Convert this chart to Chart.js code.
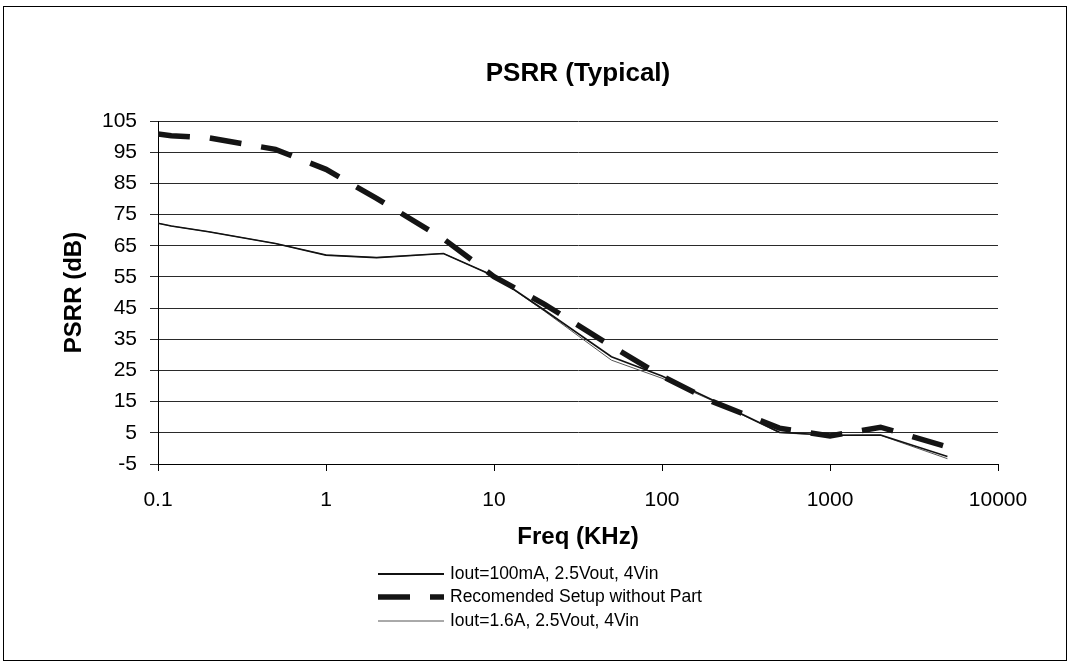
<!DOCTYPE html>
<html>
<head>
<meta charset="utf-8">
<title>PSRR (Typical)</title>
<script src="https://cdn.jsdelivr.net/npm/chart.js@4.4.1/dist/chart.umd.min.js"></script>
<style>
  html, body { margin: 0; padding: 0; background: #fff; }
  #wrap { width: 1070px; height: 667px; }
</style>
</head>
<body>
<div id="wrap"><canvas id="psrrChart" width="1070" height="667"></canvas></div>
<script>
const CHART_TITLE = "PSRR (Typical)";
const X_TITLE = "Freq (KHz)";
const Y_TITLE = "PSRR (dB)";

// frequency points (KHz)
const freqKHz = [0.1, 0.12, 0.2, 0.5, 1, 2, 5, 10, 20, 50, 100, 200, 500, 1000, 2000, 5000];

const seriesNames = [
  "Iout=100mA, 2.5Vout, 4Vin",
  "Recomended Setup without Part",
  "Iout=1.6A, 2.5Vout, 4Vin"
];

// PSRR values (dB)
const psrr100mA = [72.2, 71.3, 69.5, 65.7, 62.0, 61.2, 62.5, 55.3, 44.3, 29.4, 23.2, 15.5, 5.2, 4.2, 4.3, -2.6];
const psrrNoPart = [100.8, 100.3, 99.6, 95.9, 89.5, 80.2, 67.2, 55.1, 46.2, 32.8, 23.2, 15.0, 6.5, 4.0, 6.8, 0.5];
const psrr1p6A = [72.2, 71.3, 69.5, 65.7, 62.0, 61.2, 62.5, 55.3, 44.0, 28.3, 22.5, 15.3, 5.0, 4.2, 4.2, -3.3];

const xTickValues = [0.1, 1, 10, 100, 1000, 10000];
const xTickLabels = ["0.1", "1", "10", "100", "1000", "10000"];
const yMin = -5;
const yMax = 105;
const yStep = 10;

const FONT = "'Liberation Sans', Arial, Helvetica, sans-serif";
Chart.defaults.font.family = FONT;
Chart.defaults.color = "#000";

const toPoints = (values) => values.map((v, i) => ({ x: freqKHz[i], y: v }));

const datasets = [
  {
    label: seriesNames[0],
    data: toPoints(psrr100mA),
    borderColor: "#111",
    borderWidth: 1.6,
    pointRadius: 0,
    tension: 0,
    order: 2
  },
  {
    label: seriesNames[1],
    data: toPoints(psrrNoPart),
    borderColor: "#141414",
    borderWidth: 5.5,
    borderDash: [32, 20],
    borderCapStyle: "butt",
    pointRadius: 0,
    tension: 0,
    order: 1
  },
  {
    label: seriesNames[2],
    data: toPoints(psrr1p6A),
    borderColor: "#555",
    borderWidth: 1,
    pointRadius: 0,
    tension: 0,
    order: 3
  }
];

// frame around the whole chart + title on top of plot area
const framePlugin = {
  id: "frame",
  beforeDraw(chart) {
    const ctx = chart.ctx;
    ctx.save();
    ctx.fillStyle = "#fff";
    ctx.fillRect(0, 0, chart.width, chart.height);
    ctx.strokeStyle = "#000";
    ctx.lineWidth = 1;
    ctx.strokeRect(3.5, 6.5, 1063, 654);
    ctx.restore();
  },
  afterDraw(chart) {
    const ctx = chart.ctx;
    const area = chart.chartArea;
    ctx.save();
    ctx.fillStyle = "#000";
    ctx.font = `bold 26px ${FONT}`;
    ctx.textAlign = "center";
    ctx.textBaseline = "middle";
    ctx.fillText(CHART_TITLE, (area.left + area.right) / 2, 74);
    ctx.restore();
  }
};

// legend drawn as stacked rows with line samples
const legendRows = [574, 597, 621];
const legendPlugin = {
  id: "stackLegend",
  afterDraw(chart) {
    const ctx = chart.ctx;
    ctx.save();
    chart.data.datasets.forEach((ds, i) => {
      const y = legendRows[i];
      ctx.beginPath();
      ctx.strokeStyle = ds.borderColor;
      ctx.lineWidth = i === 0 ? 2 : ds.borderWidth;
      ctx.lineCap = "butt";
      ctx.setLineDash(ds.borderDash || []);
      ctx.moveTo(378, y);
      ctx.lineTo(444, y);
      ctx.stroke();
      ctx.setLineDash([]);
      ctx.fillStyle = "#000";
      ctx.font = `17.5px ${FONT}`;
      ctx.textAlign = "left";
      ctx.textBaseline = "middle";
      ctx.fillText(ds.label, 450, y);
    });
    ctx.restore();
  }
};

const PAD_LEFT = 56;
const PAD_BOTTOM = 111;
const PLOT_LEFT = 158;
const PLOT_BOTTOM = 464;

new Chart(document.getElementById("psrrChart"), {
  type: "line",
  data: { datasets },
  plugins: [framePlugin, legendPlugin],
  options: {
    responsive: false,
    animation: false,
    devicePixelRatio: 1,
    layout: {
      padding: { left: PAD_LEFT, right: 72, top: 121, bottom: PAD_BOTTOM }
    },
    plugins: {
      legend: { display: false },
      title: { display: false },
      tooltip: { enabled: false }
    },
    scales: {
      x: {
        type: "logarithmic",
        position: "bottom",
        min: 0.1,
        max: 10000,
        afterBuildTicks: (scale) => {
          scale.ticks = xTickValues.map((v) => ({ value: v }));
        },
        afterFit: (scale) => {
          scale.height = 667 - PAD_BOTTOM - PLOT_BOTTOM;
        },
        grid: {
          drawOnChartArea: false,
          drawTicks: true,
          tickLength: 7,
          color: "#000"
        },
        border: { color: "#000", width: 1 },
        ticks: {
          autoSkip: false,
          maxRotation: 0,
          padding: 17,
          color: "#000",
          font: { size: 21 },
          callback: (value, index) => xTickLabels[index]
        },
        title: {
          display: true,
          text: X_TITLE,
          color: "#000",
          font: { size: 24, weight: "bold" }
        }
      },
      y: {
        min: yMin,
        max: yMax,
        afterFit: (scale) => {
          scale.width = PLOT_LEFT - PAD_LEFT;
        },
        grid: {
          color: "#2a2a2a",
          drawTicks: true,
          tickLength: 8
        },
        border: { color: "#000", width: 1 },
        ticks: {
          stepSize: yStep,
          padding: 13,
          color: "#000",
          font: { size: 21 }
        },
        title: {
          display: true,
          text: Y_TITLE,
          color: "#000",
          font: { size: 24, weight: "bold" }
        }
      }
    }
  }
});
</script>
</body>
</html>
